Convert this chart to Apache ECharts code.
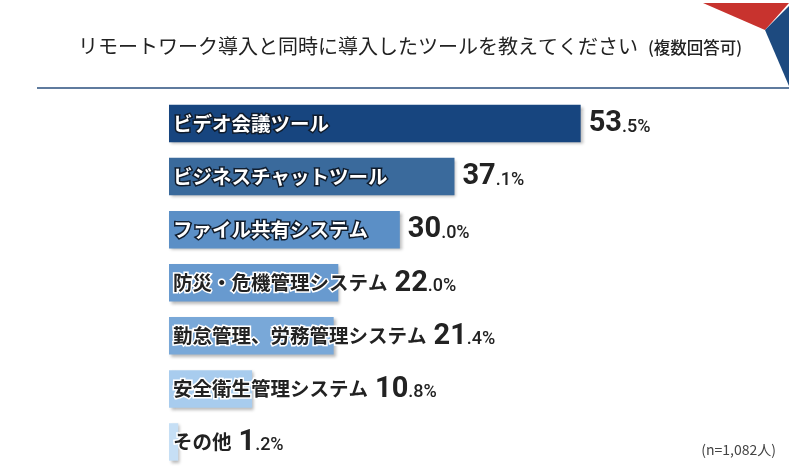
<!DOCTYPE html>
<html>
<head>
<meta charset="utf-8">
<script src="https://cdn.jsdelivr.net/npm/echarts@6/dist/echarts.min.js"></script>
<style>
  html, body { margin: 0; padding: 0; background: #fff; }
  #chart { width: 789px; height: 469px; }
</style>
</head>
<body>
<div id="chart"></div>
<script>
// 導入したツール（複数回答可）
var categories = ['ビデオ会議ツール', 'ビジネスチャットツール', 'ファイル共有システム', '防災・危機管理システム', '勤怠管理、労務管理システム', '安全衛生管理システム', 'その他'];
var values = [53.5, 37.1, 30.0, 22.0, 21.4, 10.8, 1.2];
var barColors = ['#17457f', '#3a6a9c', '#5b8fc6', '#689acf', '#79a8d8', '#a8ccee', '#c6dff5'];

var jp = 'Noto Sans CJK JP';

// 53.5 -> {big|53}{small|.5%}
function valueText(v) {
    var s = v.toFixed(1).split('.');
    return '{big|' + s[0] + '}{small|.' + s[1] + '%}';
}

var richStyle = {
    nameW: {
        color: '#fff', fontSize: 19.5, fontWeight: 'bold', fontFamily: jp,
        textBorderColor: '#101c2c', textBorderWidth: 3
    },
    nameD: {
        color: '#222', fontSize: 19.5, fontWeight: 'bold', fontFamily: jp,
        textBorderColor: '#fff', textBorderWidth: 3
    },
    big: {
        color: '#222', fontSize: 29, fontWeight: 'bold', fontFamily: 'Roboto',
        padding: [0, 0, 0, 7], lineHeight: 30, verticalAlign: 'bottom'
    },
    small: {
        color: '#222', fontSize: 18, fontWeight: 500, fontFamily: 'Roboto',
        padding: [0, 0, 2, 0], lineHeight: 18, verticalAlign: 'bottom'
    }
};

var mainData = [];
var valueData = [];
values.forEach(function(v, i) {
    var inside = i < 3;
    mainData.push({
        value: v,
        itemStyle: { color: barColors[i] },
        label: {
            formatter: inside ? '{nameW|' + categories[i] + '}' : '{nameD|' + categories[i] + '}' + valueText(v)
        }
    });
    valueData.push({
        value: v,
        label: { show: inside, formatter: valueText(v) }
    });
});

var myChart = echarts.init(document.getElementById('chart'));

var option = {
    animation: false,
    grid: { left: 169, top: 97, width: 615.6, height: 371.5 },
    xAxis: { type: 'value', min: 0, max: 80, show: false },
    yAxis: {
        type: 'category',
        inverse: true,
        data: categories,
        axisLine: { show: false },
        axisTick: { show: false },
        axisLabel: { show: false }
    },
    series: [{
        type: 'bar',
        data: mainData,
        barWidth: 37.5,
        itemStyle: {
            shadowColor: 'rgba(0,0,0,0.28)',
            shadowBlur: 3,
            shadowOffsetX: 2,
            shadowOffsetY: 2
        },
        label: {
            show: true,
            position: 'insideLeft',
            distance: 4,
            rich: richStyle
        },
        silent: true
    }, {
        type: 'bar',
        data: valueData,
        barWidth: 37.5,
        barGap: '-100%',
        itemStyle: { color: 'transparent' },
        label: {
            show: true,
            position: 'right',
            distance: 1,
            rich: richStyle
        },
        silent: true
    }],
    graphic: [{
        type: 'polygon',
        shape: { points: [[703, 3], [789, 3], [765, 30]] },
        style: { fill: '#c8332e' }
    }, {
        type: 'polygon',
        shape: { points: [[765, 30], [789, 6], [789, 86]] },
        style: { fill: '#1d4a7f' }
    }, {
        type: 'text',
        x: 78,
        y: 46,
        style: {
            text: 'リモートワーク導入と同時に導入したツールを教えてください',
            fontSize: 20,
            fontFamily: jp,
            fill: '#222',
            verticalAlign: 'middle'
        }
    }, {
        type: 'text',
        x: 648,
        y: 48,
        style: {
            text: '(複数回答可)',
            fontSize: 16.5,
            fontWeight: 500,
            fontFamily: jp,
            fill: '#222',
            verticalAlign: 'middle'
        }
    }, {
        type: 'line',
        shape: { x1: 37, y1: 88, x2: 789, y2: 88 },
        style: { stroke: '#2a4f7e', lineWidth: 1.5 }
    }, {
        type: 'text',
        x: 776,
        y: 450,
        style: {
            text: '(n=1,082人)',
            fontSize: 14,
            fontFamily: jp,
            fill: '#444',
            align: 'right',
            verticalAlign: 'middle'
        }
    }]
};
myChart.setOption(option);
</script>
</body>
</html>
